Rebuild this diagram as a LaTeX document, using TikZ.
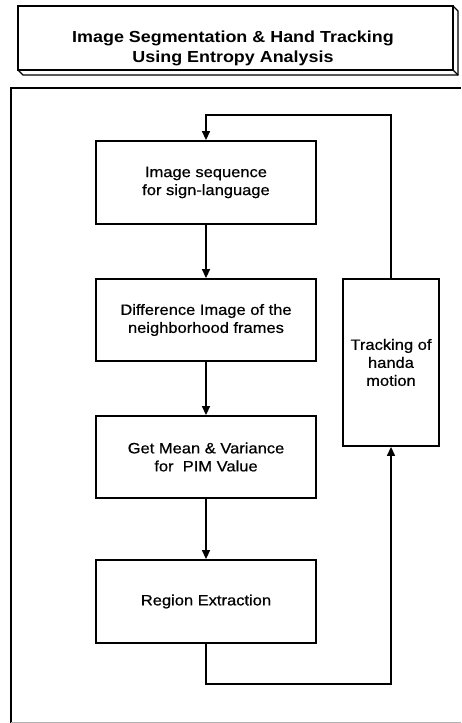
\documentclass[tikz,border=0pt]{standalone}
\usepackage{fontspec}
\setmainfont{Liberation Sans}[FakeStretch=1.12]
\newfontfamily\boxfont{Liberation Sans}[FakeStretch=1.1, FakeBold=0.6]
\usetikzlibrary{arrows.meta}
\tikzset{
  stepbox/.style={draw, line width=1.8pt, minimum width=220pt, align=center,
    inner sep=0pt, font=\boxfont\fontsize{15}{18}\selectfont},
  conn/.style={line width=1.4pt},
  arr/.style={conn, -{Triangle[length=9pt,width=8pt]}},
}
\begin{document}
\begin{tikzpicture}[x=1pt,y=-1pt]
\useasboundingbox (0,0) rectangle (461,723);
% title block (3D)
\draw[line width=1.2pt, line join=miter] (18,70) -- (23,75) -- (458,75) -- (458,11) -- (453,6);
\draw[line width=1.2pt] (453,70) -- (458,75);
\draw[line width=1.8pt] (18,6) rectangle (453,70);
\node[align=center, inner sep=0pt, font=\bfseries\fontsize{16}{20}\selectfont] (title) at (233,48)
  {Image Segmentation \& Hand Tracking\\Using Entropy Analysis};
% outer frame
\draw[line width=2pt] (11,723) -- (11,88) -- (461,88);
\draw[gray!60, line width=0.8pt] (11,722) -- (461,722);
% boxes
\node[stepbox, minimum height=83pt] (b1) at (206,182.5) {Image sequence\\for sign-language};
\node[stepbox, minimum height=82pt] (b2) at (206,320) {Difference Image of the\\ neighborhood frames};
\node[stepbox, minimum height=82pt] (b3) at (206,457) {Get Mean \& Variance\\for\ \ PIM Value};
\node[stepbox, minimum height=83pt] (b4) at (206,601.5) {Region Extraction};
\node[stepbox, minimum width=96pt, minimum height=167pt] (tr) at (391,362.5) {Tracking of\\handa\\motion};
% connectors
\draw[arr] (b1.south) -- (b2.north);
\draw[arr] (b2.south) -- (b3.north);
\draw[arr] (b3.south) -- (b4.north);
\coordinate (c1) at (206,684);
\coordinate (c2) at (391,684);
\draw[arr] (b4.south) -- (c1) -- (c2) -- (tr.south);
\coordinate (c3) at (391,115);
\coordinate (c4) at (206,115);
\draw[arr] (tr.north) -- (c3) -- (c4) -- (b1.north);
\end{tikzpicture}
\end{document}
